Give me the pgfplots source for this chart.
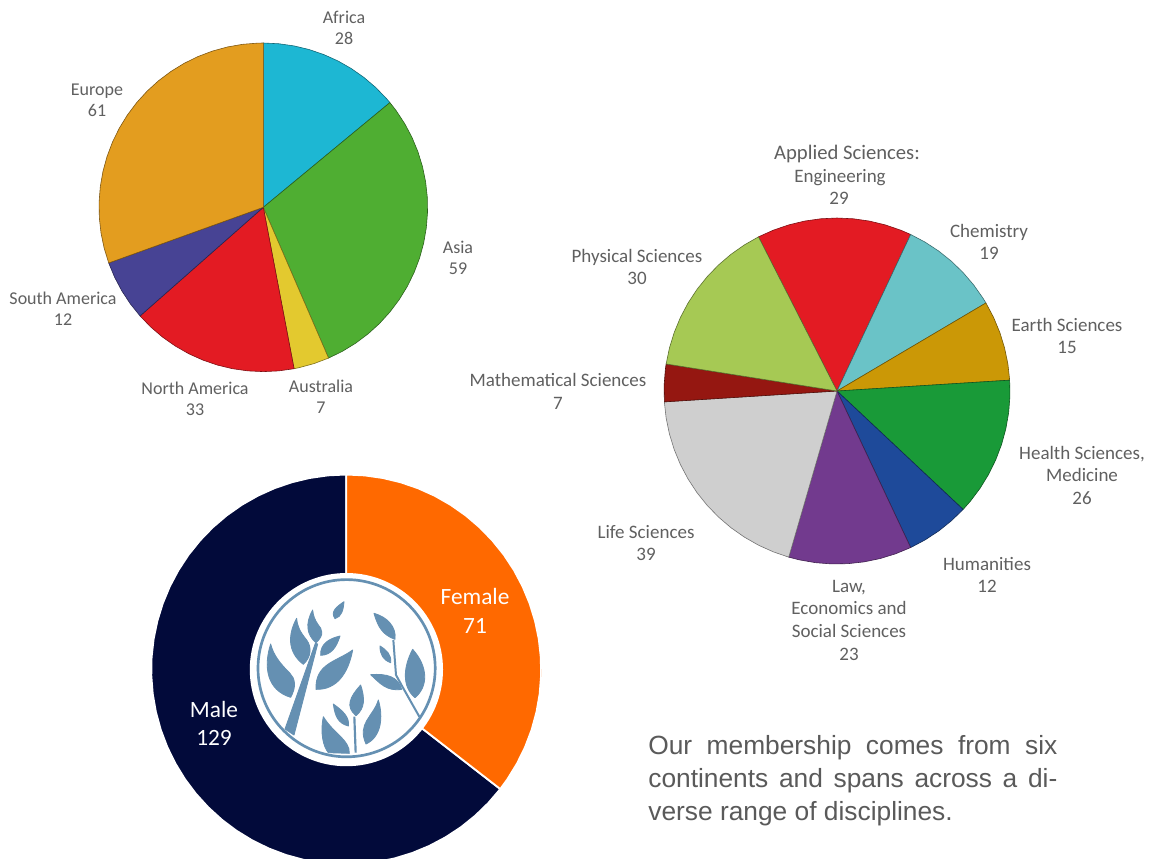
\documentclass[border=0pt]{standalone}
\usepackage{fontspec}
\usepackage{pgfplots}
\pgfplotsset{compat=1.18}
\usepgfplotslibrary{polar}
\setmainfont{Carlito}
\newfontfamily\bodyfont{Liberation Sans}

\definecolor{cAfrica}{HTML}{1DB7D3}
\definecolor{cAsia}{HTML}{4FAE32}
\definecolor{cAustralia}{HTML}{E3C92F}
\definecolor{cNAmerica}{HTML}{E31B23}
\definecolor{cSAmerica}{HTML}{474394}
\definecolor{cEurope}{HTML}{E39D1F}
\definecolor{cApplied}{HTML}{E31B23}
\definecolor{cChem}{HTML}{6AC3C7}
\definecolor{cEarth}{HTML}{CB9806}
\definecolor{cHealth}{HTML}{199A38}
\definecolor{cHuman}{HTML}{1E4A9A}
\definecolor{cLaw}{HTML}{723A8E}
\definecolor{cLife}{HTML}{CFCFCF}
\definecolor{cMath}{HTML}{951711}
\definecolor{cPhys}{HTML}{A6C954}
\definecolor{cFemale}{HTML}{FF6900}
\definecolor{cMale}{HTML}{020A3A}
\definecolor{cLogo}{HTML}{6590B2}
\definecolor{cLabel}{HTML}{606060}
\definecolor{cBody}{HTML}{5A5A5A}

% Angular coordinate of every pie is a running member count; 200 members fill the circle.
\pgfplotsset{
  pie/.style n args={3}{
    hide axis, clip=false, scale only axis,
    width=#1*0.6pt*2, height=#1*0.6pt*2,
    xmin=0, xmax=360, ymin=0, ymax=1,
    anchor=center,
    x filter/.expression={#2-1.8*x},
    at={#3},
  },
  slice/.style={fill=#1, draw=black!45!#1, line width=0.35pt, line join=round},
  gslice/.style={fill=#1, draw=white, line width=1.1pt, line join=round},
}

\newcommand\lab[3]{\node[anchor=base, inner sep=0pt, text=cLabel, font=\fontsize{10.8}{12}\selectfont] at (#1,#2) {#3};}
\newcommand\labb[3]{\node[anchor=base, inner sep=0pt, text=cLabel, font=\fontsize{11.4}{13}\selectfont] at (#1,#2) {#3};}
\newcommand\glab[3]{\node[anchor=base, inner sep=0pt, text=white, font=\fontsize{14}{16}\selectfont] at (#1,#2) {#3};}

\begin{document}
\begin{tikzpicture}
\path[use as bounding box, fill=white] (0,0) rectangle (696pt,-514.8pt);

% Membership by continent
\begin{polaraxis}[pie={164.3}{90}{(263.3*0.6pt,-207.3*0.6pt)}]
\addplot[slice=cAfrica] coordinates {(0,0) (0,1) (3,1) (6,1) (9,1) (12,1) (15,1) (18,1) (21,1) (24,1) (27,1) (28,1)} --cycle;
\addplot[slice=cAsia] coordinates {(28,0) (28,1) (30,1) (33,1) (36,1) (39,1) (42,1) (45,1) (48,1) (51,1) (54,1) (57,1) (60,1) (63,1) (66,1) (69,1) (72,1) (75,1) (78,1) (81,1) (84,1) (87,1)} --cycle;
\addplot[slice=cAustralia] coordinates {(87,0) (87,1) (90,1) (93,1) (94,1)} --cycle;
\addplot[slice=cNAmerica] coordinates {(94,0) (94,1) (97,1) (100,1) (103,1) (106,1) (109,1) (112,1) (115,1) (118,1) (121,1) (124,1) (127,1)} --cycle;
\addplot[slice=cSAmerica] coordinates {(127,0) (127,1) (130,1) (133,1) (136,1) (139,1)} --cycle;
\addplot[slice=cEurope] coordinates {(139,0) (139,1) (142,1) (145,1) (148,1) (151,1) (154,1) (157,1) (160,1) (163,1) (166,1) (169,1) (172,1) (175,1) (178,1) (181,1) (184,1) (187,1) (190,1) (193,1) (196,1) (199,1) (200,1)} --cycle;
\end{polaraxis}

% Membership by discipline
\begin{polaraxis}[pie={173}{117}{(837*0.6pt,-391*0.6pt)}]
\addplot[slice=cApplied] coordinates {(0,0) (0,1) (3,1) (6,1) (9,1) (12,1) (15,1) (18,1) (21,1) (24,1) (27,1) (29,1)} --cycle;
\addplot[slice=cChem] coordinates {(29,0) (29,1) (32,1) (35,1) (38,1) (41,1) (44,1) (47,1) (48,1)} --cycle;
\addplot[slice=cEarth] coordinates {(48,0) (48,1) (51,1) (54,1) (57,1) (60,1) (63,1)} --cycle;
\addplot[slice=cHealth] coordinates {(63,0) (63,1) (66,1) (69,1) (72,1) (75,1) (78,1) (81,1) (84,1) (87,1) (89,1)} --cycle;
\addplot[slice=cHuman] coordinates {(89,0) (89,1) (92,1) (95,1) (98,1) (101,1)} --cycle;
\addplot[slice=cLaw] coordinates {(101,0) (101,1) (104,1) (107,1) (110,1) (113,1) (116,1) (119,1) (122,1) (124,1)} --cycle;
\addplot[slice=cLife] coordinates {(124,0) (124,1) (127,1) (130,1) (133,1) (136,1) (139,1) (142,1) (145,1) (148,1) (151,1) (154,1) (157,1) (160,1) (163,1)} --cycle;
\addplot[slice=cMath] coordinates {(163,0) (163,1) (166,1) (169,1) (170,1)} --cycle;
\addplot[slice=cPhys] coordinates {(170,0) (170,1) (173,1) (176,1) (179,1) (182,1) (185,1) (188,1) (191,1) (194,1) (197,1) (200,1)} --cycle;
\end{polaraxis}

% Membership by gender, cut off at the column edge
\begin{scope}
\clip (0,0) rectangle (324.6pt,-514.8pt);
\begin{polaraxis}[pie={195}{90}{(346.2*0.6pt,-669.5*0.6pt)}]
\addplot[gslice=cMale] coordinates {(71,0) (71,1) (74,1) (77,1) (80,1) (83,1) (86,1) (89,1) (92,1) (95,1) (98,1) (101,1) (104,1) (107,1) (110,1) (113,1) (116,1) (119,1) (122,1) (125,1) (128,1) (131,1) (134,1) (137,1) (140,1) (143,1) (146,1) (149,1) (152,1) (155,1) (158,1) (161,1) (164,1) (167,1) (170,1) (173,1) (176,1) (179,1) (182,1) (185,1) (188,1) (191,1) (194,1) (197,1) (200,1)} --cycle;
\addplot[gslice=cFemale] coordinates {(0,0) (0,1) (3,1) (6,1) (9,1) (12,1) (15,1) (18,1) (21,1) (24,1) (27,1) (30,1) (33,1) (36,1) (39,1) (42,1) (45,1) (48,1) (51,1) (54,1) (57,1) (60,1) (63,1) (66,1) (69,1) (71,1)} --cycle;
\end{polaraxis}
\end{scope}

% Emblem in the middle of the gender ring
\begin{scope}[x=0.6pt,y=-0.6pt]
\fill[white] (346.4,669.6) circle (96.6);
\draw[cLogo, line width=1.6pt] (346.6,668.2) circle (88.6);
\end{scope}
\begin{scope}[shift={(144pt,-336pt)},x=0.2pt,y=-0.2pt]
\filldraw[cLogo, line width=0.5pt, line join=round]
 (92,252) .. controls (70,320) and (80,390) .. (152,412) .. controls (170,380) and (165,355) .. (150,340) .. controls (120,310) and (100,285) .. (92,252) -- cycle
 (170,175) .. controls (145,220) and (140,275) .. (190,313) .. controls (215,290) and (215,260) .. (200,240) .. controls (180,215) and (172,200) .. (170,175) -- cycle
 (218,150) .. controls (195,190) and (200,225) .. (228,248) .. controls (255,225) and (245,205) .. (235,195) .. controls (225,180) and (220,170) .. (218,150) -- cycle
 (312,125) .. controls (290,140) and (270,155) .. (285,176) .. controls (305,170) and (310,150) .. (312,125) -- cycle
 (300,228) .. controls (270,235) and (240,250) .. (242,286) .. controls (275,285) and (290,260) .. (300,228) -- cycle
 (338,270) .. controls (290,305) and (225,310) .. (228,388) .. controls (290,390) and (325,340) .. (338,270) -- cycle
 (226,250) -- (233,252) -- (162,525) -- (135,507) -- cycle
 (402,160) .. controls (415,205) and (430,225) .. (465,238) .. controls (470,200) and (440,170) .. (402,160) -- cycle
 (420,258) .. controls (420,285) and (430,300) .. (452,308) .. controls (455,285) and (440,270) .. (420,258) -- cycle
 (392,344) .. controls (420,370) and (440,395) .. (485,388) .. controls (475,350) and (440,340) .. (392,344) -- cycle
 (518,268) .. controls (490,320) and (485,380) .. (525,413) .. controls (565,380) and (565,320) .. (518,268) -- cycle
 (362,375) .. controls (330,410) and (315,440) .. (348,467) .. controls (375,445) and (375,415) .. (362,375) -- cycle
 (280,432) .. controls (285,470) and (295,490) .. (325,498) .. controls (330,470) and (305,450) .. (280,432) -- cycle
 (250,470) .. controls (240,520) and (250,560) .. (265,578) -- (328,580) .. controls (330,540) and (280,520) .. (250,470) -- cycle
 (415,420) .. controls (400,470) and (350,490) .. (378,552) .. controls (425,530) and (430,470) .. (415,420) -- cycle;
\draw[cLogo, line width=1.2pt] (460,240) -- (468,345) -- (490,385) -- (538,470);
\draw[cLogo, line width=1.3pt] (343,470) -- (347,578);
\end{scope}

\begin{scope}[x=0.6pt,y=-0.6pt]
% Continent labels
\lab{344}{23}{Africa}\lab{344}{44}{28}
\lab{97}{95}{Europe}\lab{97}{116}{61}
\lab{458}{253}{Asia}\lab{458}{274}{59}
\lab{63}{304}{South America}\lab{63}{325}{12}
\lab{195}{394}{North America}\lab{195}{415}{33}
\lab{321}{392}{Australia}\lab{321}{413}{7}
% Discipline labels
\node[anchor=base, inner sep=0pt, text=cLabel, font=\fontsize{12.4}{14}\selectfont] at (847,159) {Applied Sciences:};
\labb{840}{182}{Engineering}\labb{839}{204}{29}
\labb{989}{237}{Chemistry}\labb{989}{259}{19}
\labb{1067}{331}{Earth Sciences}\labb{1067}{353}{15}
\labb{1082}{459}{Health Sciences,}\labb{1082}{481}{Medicine}\labb{1082}{504}{26}
\labb{987}{570}{Humanities}\labb{987}{592}{12}
\labb{849}{592}{Law,}\labb{849}{614}{Economics and}\labb{849}{637}{Social Sciences}\labb{849}{660}{23}
\labb{646}{538}{Life Sciences}\labb{646}{560}{39}
\labb{558}{386}{Mathematical Sciences}\labb{558}{409}{7}
\labb{637}{262}{Physical Sciences}\labb{637}{284}{30}
% Gender labels
\glab{475}{604}{Female}\glab{475}{633}{71}
\glab{214}{717}{Male}\glab{214}{745}{129}
% Closing remark, set justified over three lines
\node[anchor=base west, inner sep=0pt, text=cBody, font=\bodyfont\fontsize{15.8}{18}\selectfont] at (648,754)
  {\hbox to 245.4pt{Our\hfil membership\hfil comes\hfil from\hfil six}};
\node[anchor=base west, inner sep=0pt, text=cBody, font=\bodyfont\fontsize{15.8}{18}\selectfont] at (648,787)
  {\hbox to 245.4pt{continents\hfil and\hfil spans\hfil across\hfil a\hfil di-}};
\node[anchor=base west, inner sep=0pt, text=cBody, font=\bodyfont\fontsize{15.8}{18}\selectfont] at (648,820)
  {verse range of disciplines.};
\end{scope}
\end{tikzpicture}
\end{document}
